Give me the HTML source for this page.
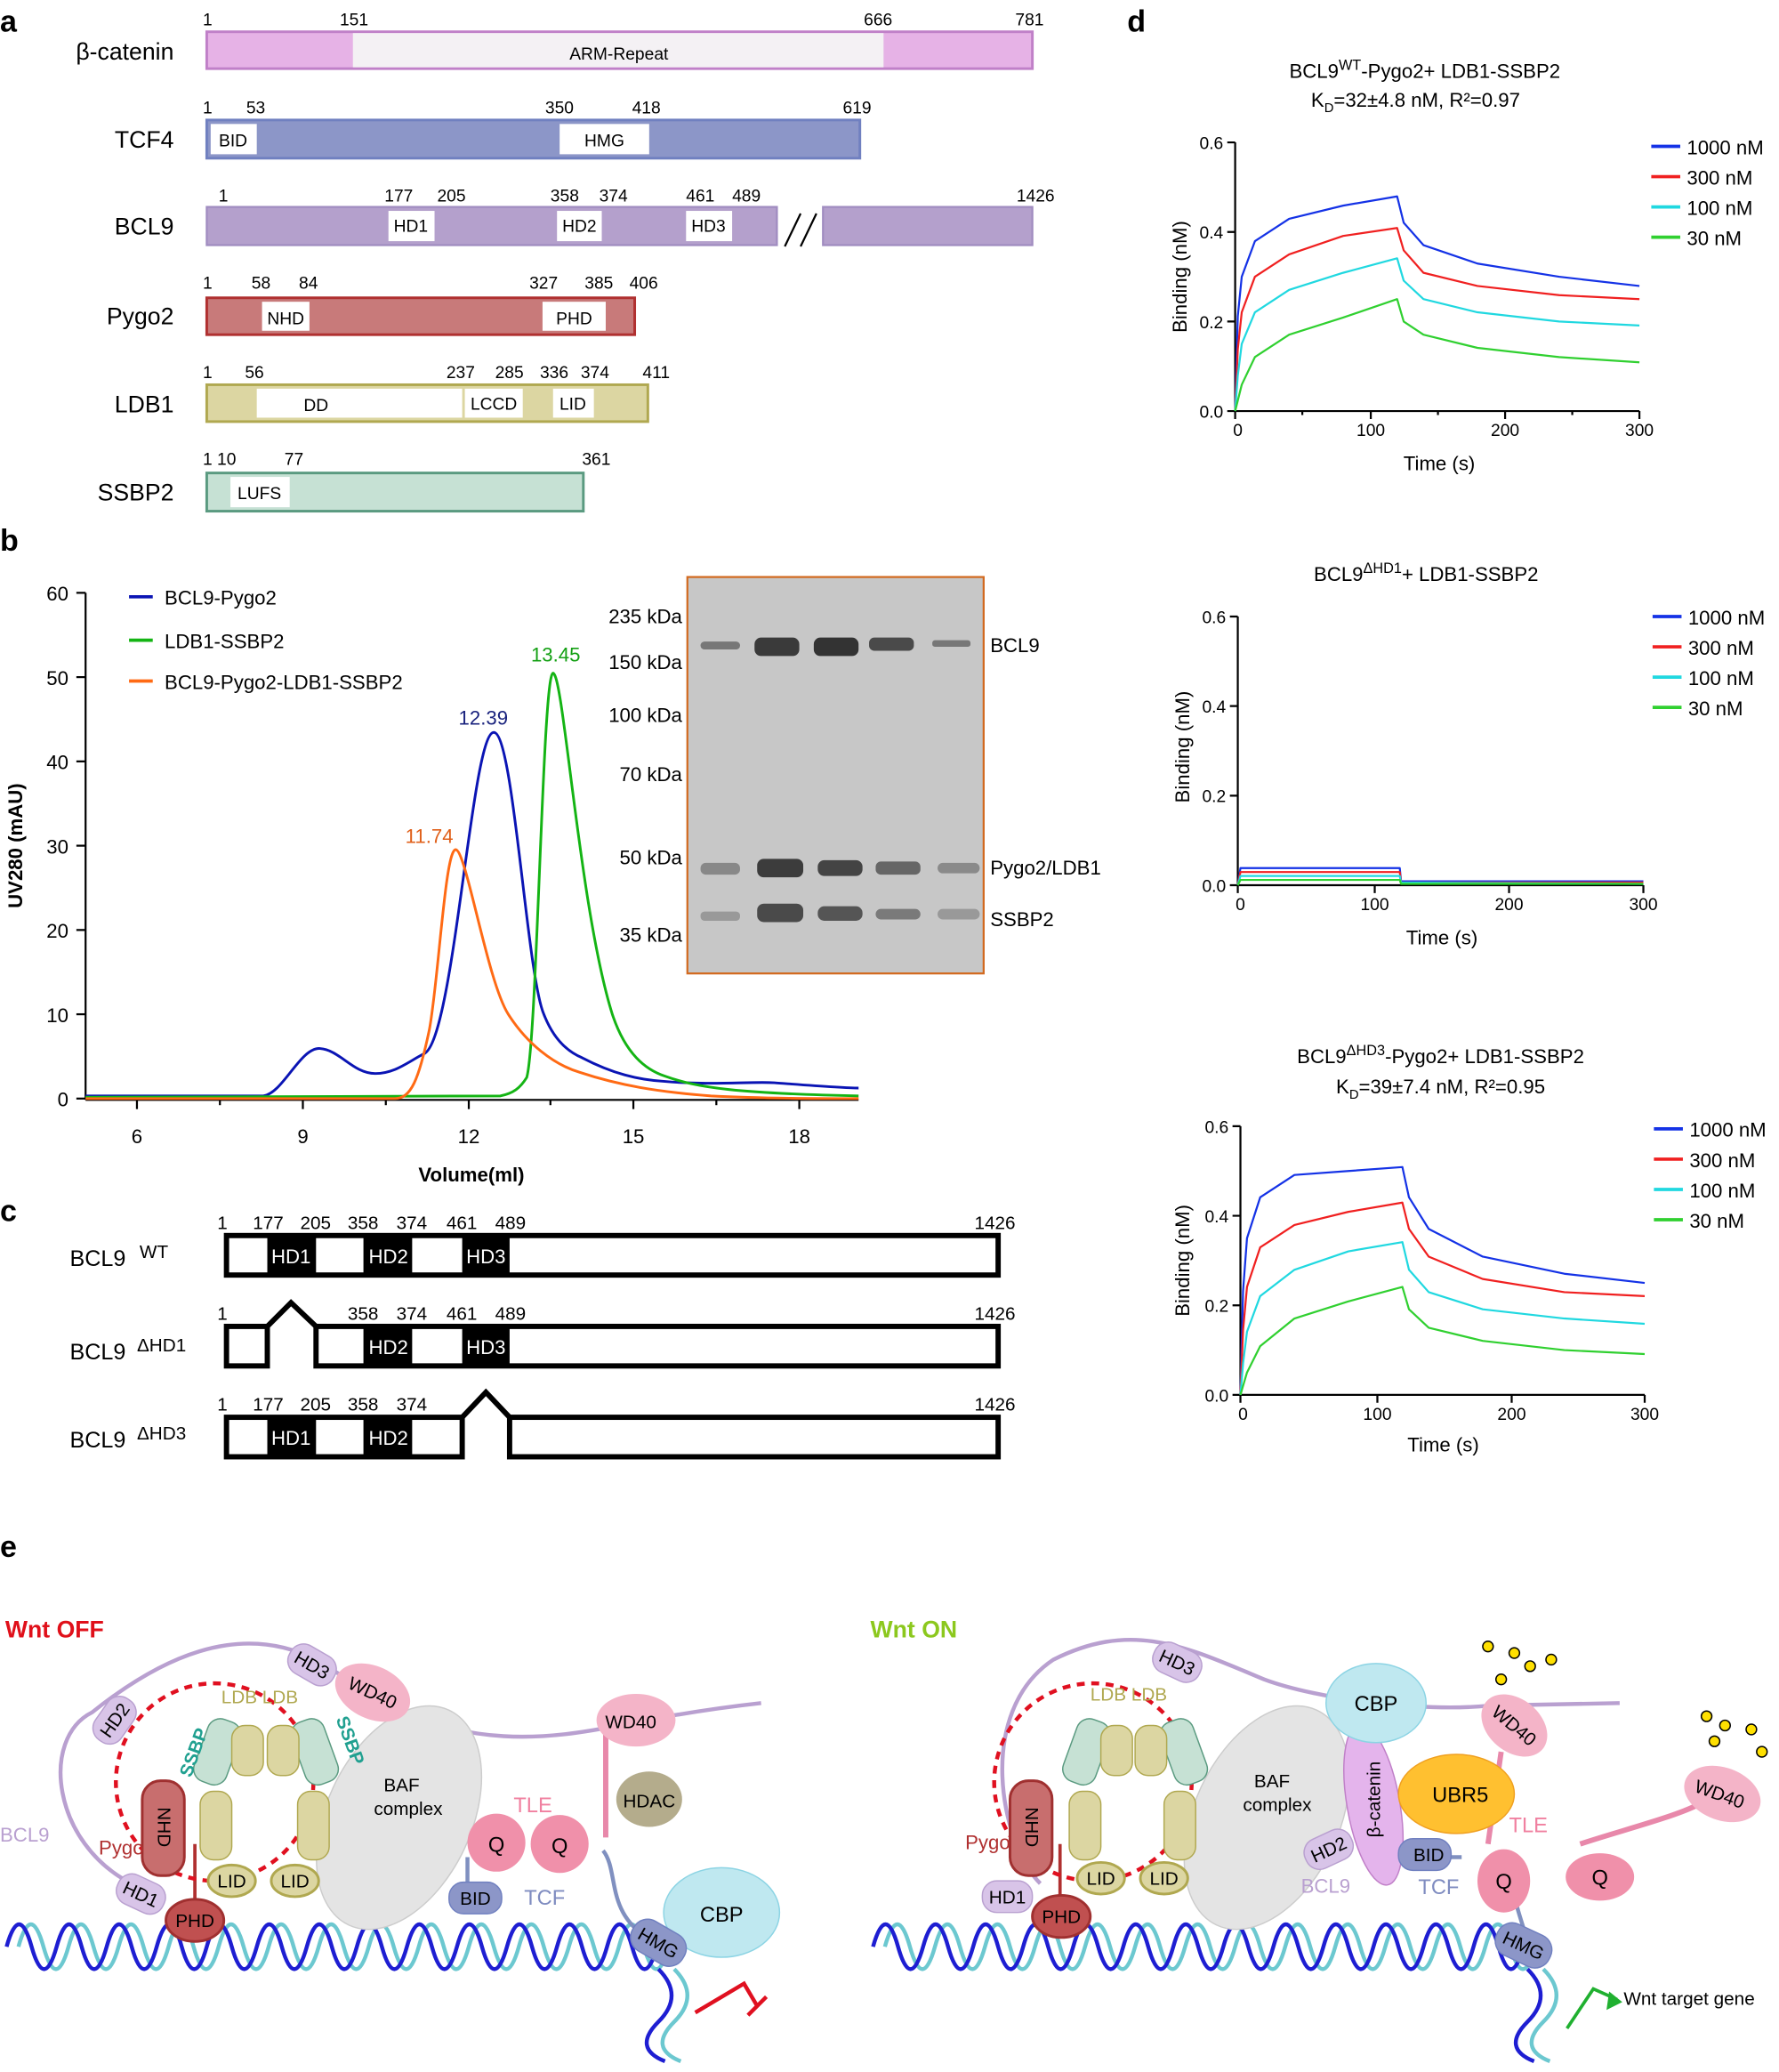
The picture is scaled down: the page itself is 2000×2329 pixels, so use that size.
<!DOCTYPE html>
<html><head><meta charset="utf-8"><style>
html,body{margin:0;padding:0;background:#fff}
svg{display:block}
text{font-family:"Liberation Sans",Arial,sans-serif}
</style></head><body>
<svg width="2000" height="2329" viewBox="0 0 1351 1573" xmlns="http://www.w3.org/2000/svg">
<g font-size="14" fill="#000">
<!-- Panel a -->
<text x="0" y="24" font-size="23" font-weight="bold">a</text>
<g font-size="18" text-anchor="end">
<text x="132" y="45">β-catenin</text>
<text x="132" y="112">TCF4</text>
<text x="132" y="178">BCL9</text>
<text x="132" y="246">Pygo2</text>
<text x="132" y="313">LDB1</text>
<text x="132" y="380">SSBP2</text>
</g>
<g font-size="13">
<rect x="157" y="24" width="627" height="28" fill="#e6b2e6" stroke="#c080c8" stroke-width="2"/>
<rect x="268" y="25" width="403" height="26" fill="#f4f1f4"/>
<text x="470" y="45" text-anchor="middle">ARM-Repeat</text>
<text x="154" y="19">1</text><text x="258" y="19">151</text><text x="656" y="19">666</text><text x="771" y="19">781</text>

<rect x="157" y="91" width="496" height="29" fill="#8c96c8" stroke="#7080c0" stroke-width="2"/>
<rect x="160" y="94" width="35" height="23" fill="#fff"/><text x="177" y="111" text-anchor="middle">BID</text>
<rect x="425" y="94" width="68" height="23" fill="#fff"/><text x="459" y="111" text-anchor="middle">HMG</text>
<text x="154" y="86">1</text><text x="187" y="86">53</text><text x="414" y="86">350</text><text x="480" y="86">418</text><text x="640" y="86">619</text>

<rect x="157" y="157" width="433" height="29" fill="#b4a0cc" stroke="#a08cc0" stroke-width="1.5"/>
<rect x="625" y="157" width="159" height="29" fill="#b4a0cc" stroke="#a08cc0" stroke-width="1.5"/>
<line x1="596" y1="187" x2="608" y2="162" stroke="#000" stroke-width="1.5"/><line x1="608" y1="187" x2="620" y2="162" stroke="#000" stroke-width="1.5"/>
<rect x="295" y="160" width="35" height="23" fill="#fff"/><text x="312" y="176" text-anchor="middle">HD1</text>
<rect x="423" y="160" width="34" height="23" fill="#fff"/><text x="440" y="176" text-anchor="middle">HD2</text>
<rect x="521" y="160" width="35" height="23" fill="#fff"/><text x="538" y="176" text-anchor="middle">HD3</text>
<text x="166" y="153">1</text><text x="292" y="153">177</text><text x="332" y="153">205</text><text x="418" y="153">358</text><text x="455" y="153">374</text><text x="521" y="153">461</text><text x="556" y="153">489</text><text x="772" y="153">1426</text>

<rect x="157" y="226" width="325" height="28" fill="#c87a7a" stroke="#b03030" stroke-width="2"/>
<rect x="199" y="229" width="36" height="22" fill="#fff"/><text x="217" y="246" text-anchor="middle">NHD</text>
<rect x="412" y="229" width="48" height="22" fill="#fff"/><text x="436" y="246" text-anchor="middle">PHD</text>
<text x="154" y="219">1</text><text x="191" y="219">58</text><text x="227" y="219">84</text><text x="402" y="219">327</text><text x="444" y="219">385</text><text x="478" y="219">406</text>

<rect x="157" y="292" width="335" height="28" fill="#dcd6a2" stroke="#b0a850" stroke-width="2"/>
<rect x="195" y="295" width="156" height="22" fill="#fff"/><text x="240" y="312" text-anchor="middle">DD</text>
<rect x="353" y="295" width="44" height="22" fill="#fff"/><text x="375" y="311" text-anchor="middle">LCCD</text>
<rect x="420" y="295" width="31" height="22" fill="#fff"/><text x="435" y="311" text-anchor="middle">LID</text>
<text x="154" y="287">1</text><text x="186" y="287">56</text><text x="339" y="287">237</text><text x="376" y="287">285</text><text x="410" y="287">336</text><text x="441" y="287">374</text><text x="488" y="287">411</text>

<rect x="157" y="359" width="286" height="29" fill="#c6e1d4" stroke="#5a9a80" stroke-width="2"/>
<rect x="175" y="362" width="45" height="23" fill="#fff"/><text x="197" y="379" text-anchor="middle">LUFS</text>
<text x="154" y="353">1 10</text><text x="216" y="353">77</text><text x="442" y="353">361</text>
</g>

<!-- Panel b -->
<text x="0" y="418" font-size="23" font-weight="bold">b</text>
<g stroke="#000" stroke-width="1.5" fill="none">
<line x1="65" y1="450" x2="65" y2="835"/><line x1="65" y1="835" x2="652" y2="835"/>
<line x1="58" y1="450" x2="65" y2="450"/><line x1="58" y1="514" x2="65" y2="514"/><line x1="58" y1="578" x2="65" y2="578"/><line x1="58" y1="642" x2="65" y2="642"/><line x1="58" y1="706" x2="65" y2="706"/><line x1="58" y1="770" x2="65" y2="770"/><line x1="58" y1="834" x2="65" y2="834"/>
<line x1="104" y1="835" x2="104" y2="842"/><line x1="230" y1="835" x2="230" y2="842"/><line x1="356" y1="835" x2="356" y2="842"/><line x1="481" y1="835" x2="481" y2="842"/><line x1="607" y1="835" x2="607" y2="842"/>
<line x1="167" y1="835" x2="167" y2="839"/><line x1="293" y1="835" x2="293" y2="839"/><line x1="418" y1="835" x2="418" y2="839"/><line x1="544" y1="835" x2="544" y2="839"/>
</g>
<g font-size="15" text-anchor="end">
<text x="52" y="456">60</text><text x="52" y="520">50</text><text x="52" y="584">40</text><text x="52" y="648">30</text><text x="52" y="712">20</text><text x="52" y="776">10</text><text x="52" y="840">0</text>
</g>
<g font-size="15" text-anchor="middle">
<text x="104" y="868">6</text><text x="230" y="868">9</text><text x="356" y="868">12</text><text x="481" y="868">15</text><text x="607" y="868">18</text>
</g>
<text x="358" y="897" font-size="15" font-weight="bold" text-anchor="middle">Volume(ml)</text>
<text transform="translate(17,642) rotate(-90)" font-size="15" font-weight="bold" text-anchor="middle">UV280 (mAU)</text>
<path d="M65 832 L200 832 C215 830 228 795 243 796 C258 797 268 815 285 815 C300 815 310 806 322 800 C345 790 358 556 375 556 C390 556 400 740 413 770 C420 788 430 798 442 803 C465 815 485 820 505 821 C540 824 570 821 588 822 C615 824 640 826 652 826" fill="none" stroke="#0a14b4" stroke-width="2"/>
<path d="M65 833 L380 832 C390 830 395 826 400 818 C408 790 412 511 420 511 C428 511 440 690 465 770 C475 800 490 812 505 817 C530 826 560 830 652 832" fill="none" stroke="#14b414" stroke-width="2"/>
<path d="M65 834 L300 834 C312 834 318 820 326 782 C333 745 338 645 346 645 C354 645 370 745 386 770 C400 792 420 808 440 814 C470 824 500 829 540 832 C580 834 620 834 652 834" fill="none" stroke="#ff6a14" stroke-width="2"/>
<g font-size="15">
<line x1="98" y1="453" x2="116" y2="453" stroke="#0a14b4" stroke-width="2.5"/><text x="125" y="459">BCL9-Pygo2</text>
<line x1="98" y1="486" x2="116" y2="486" stroke="#14b414" stroke-width="2.5"/><text x="125" y="492">LDB1-SSBP2</text>
<line x1="98" y1="517" x2="116" y2="517" stroke="#ff6a14" stroke-width="2.5"/><text x="125" y="523">BCL9-Pygo2-LDB1-SSBP2</text>
<text x="367" y="550" fill="#1a237e" text-anchor="middle">12.39</text>
<text x="422" y="502" fill="#14a014" text-anchor="middle">13.45</text>
<text x="326" y="640" fill="#e0601a" text-anchor="middle">11.74</text>
</g>
<!-- gel -->
<rect x="522" y="438" width="225" height="301" fill="#c7c7c7" stroke="#d2691e" stroke-width="1.5"/>
<g fill="#555">
<rect x="532" y="487" width="30" height="6" rx="3" fill="#777"/>
<rect x="573" y="484" width="34" height="14" rx="5" fill="#3a3a3a"/>
<rect x="618" y="484" width="34" height="14" rx="5" fill="#333"/>
<rect x="660" y="484" width="34" height="10" rx="4" fill="#4a4a4a"/>
<rect x="708" y="486" width="29" height="5" rx="2" fill="#777"/>
<rect x="532" y="655" width="30" height="9" rx="4" fill="#888"/>
<rect x="575" y="652" width="35" height="14" rx="5" fill="#3c3c3c"/>
<rect x="621" y="653" width="34" height="12" rx="5" fill="#444"/>
<rect x="665" y="654" width="34" height="10" rx="4" fill="#666"/>
<rect x="712" y="655" width="32" height="8" rx="4" fill="#8a8a8a"/>
<rect x="532" y="692" width="30" height="7" rx="3" fill="#999"/>
<rect x="575" y="686" width="35" height="14" rx="5" fill="#4a4a4a"/>
<rect x="621" y="688" width="34" height="11" rx="5" fill="#555"/>
<rect x="665" y="690" width="34" height="8" rx="4" fill="#7a7a7a"/>
<rect x="712" y="690" width="32" height="8" rx="4" fill="#999"/>
</g>
<g font-size="15" text-anchor="end">
<text x="518" y="473">235 kDa</text><text x="518" y="508">150 kDa</text><text x="518" y="548">100 kDa</text><text x="518" y="593">70 kDa</text><text x="518" y="656">50 kDa</text><text x="518" y="715">35 kDa</text>
</g>
<g font-size="15"><text x="752" y="495">BCL9</text><text x="752" y="664">Pygo2/LDB1</text><text x="752" y="703">SSBP2</text></g>

<!-- Panel c -->
<text x="0" y="927" font-size="23" font-weight="bold">c</text>
<g font-size="17">
<text x="53" y="961">BCL9</text><text x="106" y="955" font-size="14">WT</text>
<text x="53" y="1032">BCL9</text><text x="104" y="1026" font-size="14">ΔHD1</text>
<text x="53" y="1099">BCL9</text><text x="104" y="1093" font-size="14">ΔHD3</text>
</g>
<g fill="#fff" stroke="#000" stroke-width="4">
<rect x="172" y="938" width="586" height="30"/>
<rect x="172" y="1007" width="31" height="30"/><rect x="240" y="1007" width="518" height="30"/>
<polyline points="203,1007 221,989 240,1007" fill="none"/>
<rect x="172" y="1076" width="179" height="30"/><rect x="387" y="1076" width="371" height="30"/>
<polyline points="351,1076 369,1057 387,1076" fill="none"/>
</g>
<g fill="#000">
<rect x="203" y="938" width="37" height="30"/><rect x="276" y="938" width="37" height="30"/><rect x="351" y="938" width="36" height="30"/>
<rect x="276" y="1007" width="37" height="30"/><rect x="351" y="1007" width="36" height="30"/>
<rect x="203" y="1076" width="37" height="30"/><rect x="276" y="1076" width="37" height="30"/>
</g>
<g font-size="15" fill="#fff" text-anchor="middle">
<text x="221" y="959">HD1</text><text x="295" y="959">HD2</text><text x="369" y="959">HD3</text>
<text x="295" y="1028">HD2</text><text x="369" y="1028">HD3</text>
<text x="221" y="1097">HD1</text><text x="295" y="1097">HD2</text>
</g>
<g font-size="14">
<text x="165" y="933">1</text><text x="192" y="933">177</text><text x="228" y="933">205</text><text x="264" y="933">358</text><text x="301" y="933">374</text><text x="339" y="933">461</text><text x="376" y="933">489</text><text x="740" y="933">1426</text>
<text x="165" y="1002">1</text><text x="264" y="1002">358</text><text x="301" y="1002">374</text><text x="339" y="1002">461</text><text x="376" y="1002">489</text><text x="740" y="1002">1426</text>
<text x="165" y="1071">1</text><text x="192" y="1071">177</text><text x="228" y="1071">205</text><text x="264" y="1071">358</text><text x="301" y="1071">374</text><text x="740" y="1071">1426</text>
</g>

<!-- Panel d -->
<text x="856" y="24" font-size="23" font-weight="bold">d</text>
<g font-size="15" text-anchor="middle">
<text x="1082" y="59">BCL9<tspan font-size="11" dy="-6">WT</tspan><tspan dy="6">-Pygo2+ LDB1-SSBP2</tspan></text>
<text x="1075" y="81">K<tspan font-size="10" dy="4">D</tspan><tspan dy="-4">=32±4.8 nM, R²=0.97</tspan></text>
<text x="1083" y="441">BCL9<tspan font-size="11" dy="-6">ΔHD1</tspan><tspan dy="6">+ LDB1-SSBP2</tspan></text>
<text x="1094" y="807">BCL9<tspan font-size="11" dy="-6">ΔHD3</tspan><tspan dy="6">-Pygo2+ LDB1-SSBP2</tspan></text>
<text x="1094" y="830">K<tspan font-size="10" dy="4">D</tspan><tspan dy="-4">=39±7.4 nM, R²=0.95</tspan></text>
</g>
<!-- plot frames -->
<g stroke="#000" stroke-width="1.5" fill="none">
<path d="M938 108 V312 H1245"/><path d="M932 108H938M932 176H938M932 244H938M932 312H938M938 312V318M1041 312V318M1143 312V318M1245 312V318M989 312V315M1092 312V315M1194 312V315"/>
<path d="M940 468 V672 H1248"/><path d="M934 468H940M934 536H940M934 604H940M934 672H940M940 672V678M1044 672V678M1146 672V678M1248 672V678"/>
<path d="M942 855 V1059 H1249"/><path d="M936 855H942M936 923H942M936 991H942M936 1059H942M942 1059V1065M1046 1059V1065M1148 1059V1065M1249 1059V1065"/>
</g>
<g font-size="13" text-anchor="end">
<text x="929" y="113">0.6</text><text x="929" y="181">0.4</text><text x="929" y="249">0.2</text><text x="929" y="317">0.0</text>
<text x="931" y="473">0.6</text><text x="931" y="541">0.4</text><text x="931" y="609">0.2</text><text x="931" y="677">0.0</text>
<text x="933" y="860">0.6</text><text x="933" y="928">0.4</text><text x="933" y="996">0.2</text><text x="933" y="1064">0.0</text>
</g>
<g font-size="13" text-anchor="middle">
<text x="940" y="331">0</text><text x="1041" y="331">100</text><text x="1143" y="331">200</text><text x="1245" y="331">300</text>
<text x="942" y="691">0</text><text x="1044" y="691">100</text><text x="1146" y="691">200</text><text x="1248" y="691">300</text>
<text x="944" y="1078">0</text><text x="1046" y="1078">100</text><text x="1148" y="1078">200</text><text x="1249" y="1078">300</text>
</g>
<g font-size="15" text-anchor="middle">
<text x="1093" y="357">Time (s)</text><text x="1095" y="717">Time (s)</text><text x="1096" y="1102">Time (s)</text>
<text transform="translate(901,210) rotate(-90)">Binding (nM)</text>
<text transform="translate(903,567) rotate(-90)">Binding (nM)</text>
<text transform="translate(903,957) rotate(-90)">Binding (nM)</text>
</g>
<g fill="none" stroke-width="1.5" stroke-linejoin="round">
<polyline stroke="#1432e6" points="938,312 940,240 943,210 953,183 979,166 1020,156 1061,149 1066,169 1081,186 1122,200 1184,210 1245,217"/>
<polyline stroke="#f02020" points="938,312 940,265 943,237 953,210 979,193 1020,179 1061,173 1066,190 1081,207 1122,217 1184,224 1245,227"/>
<polyline stroke="#20d8e0" points="938,312 940,285 943,261 953,237 979,220 1020,207 1061,196 1066,213 1081,227 1122,237 1184,244 1245,247"/>
<polyline stroke="#30d030" points="938,312 943,292 953,271 979,254 1020,241 1061,227 1066,244 1081,254 1122,264 1184,271 1245,275"/>
<polyline stroke="#1432e6" points="940,672 942,659 1063,659 1064,669 1248,669"/>
<polyline stroke="#f02020" points="940,672 942,662 1063,662 1064,670 1248,670"/>
<polyline stroke="#20d8e0" points="940,672 942,665 1063,665 1064,670 1248,671"/>
<polyline stroke="#30d030" points="940,672 942,668 1063,668 1064,671 1248,671"/>
<polyline stroke="#1432e6" points="942,1059 944,980 947,940 957,909 983,892 1024,889 1065,886 1070,909 1085,933 1126,954 1188,967 1249,974"/>
<polyline stroke="#f02020" points="942,1059 944,1010 947,977 957,947 983,930 1024,920 1065,913 1070,933 1085,954 1126,971 1188,981 1249,984"/>
<polyline stroke="#20d8e0" points="942,1059 944,1035 947,1011 957,984 983,964 1024,950 1065,943 1070,964 1085,981 1126,994 1188,1001 1249,1005"/>
<polyline stroke="#30d030" points="942,1059 947,1042 957,1022 983,1001 1024,988 1065,977 1070,994 1085,1008 1126,1018 1188,1025 1249,1028"/>
</g>
<g font-size="15">
<g transform="translate(0,0)">
<line x1="1254" y1="111" x2="1276" y2="111" stroke="#1432e6" stroke-width="2.5"/><text x="1281" y="117">1000 nM</text>
<line x1="1254" y1="134" x2="1276" y2="134" stroke="#f02020" stroke-width="2.5"/><text x="1281" y="140">300 nM</text>
<line x1="1254" y1="157" x2="1276" y2="157" stroke="#20d8e0" stroke-width="2.5"/><text x="1281" y="163">100 nM</text>
<line x1="1254" y1="180" x2="1276" y2="180" stroke="#30d030" stroke-width="2.5"/><text x="1281" y="186">30 nM</text>
</g>
<g transform="translate(1,357)">
<line x1="1254" y1="111" x2="1276" y2="111" stroke="#1432e6" stroke-width="2.5"/><text x="1281" y="117">1000 nM</text>
<line x1="1254" y1="134" x2="1276" y2="134" stroke="#f02020" stroke-width="2.5"/><text x="1281" y="140">300 nM</text>
<line x1="1254" y1="157" x2="1276" y2="157" stroke="#20d8e0" stroke-width="2.5"/><text x="1281" y="163">100 nM</text>
<line x1="1254" y1="180" x2="1276" y2="180" stroke="#30d030" stroke-width="2.5"/><text x="1281" y="186">30 nM</text>
</g>
<g transform="translate(2,746)">
<line x1="1254" y1="111" x2="1276" y2="111" stroke="#1432e6" stroke-width="2.5"/><text x="1281" y="117">1000 nM</text>
<line x1="1254" y1="134" x2="1276" y2="134" stroke="#f02020" stroke-width="2.5"/><text x="1281" y="140">300 nM</text>
<line x1="1254" y1="157" x2="1276" y2="157" stroke="#20d8e0" stroke-width="2.5"/><text x="1281" y="163">100 nM</text>
<line x1="1254" y1="180" x2="1276" y2="180" stroke="#30d030" stroke-width="2.5"/><text x="1281" y="186">30 nM</text>
</g>
</g>

<!-- Panel e -->
<text x="0" y="1182" font-size="23" font-weight="bold">e</text>
<text x="4" y="1243" font-size="18" font-weight="bold" fill="#e0101a">Wnt OFF</text>
<text x="661" y="1243" font-size="18" font-weight="bold" fill="#8cc81e">Wnt ON</text>

<!-- DNA left -->
<path d="M14 1478 q9.5 -34 19 0 t19 0 t19 0 t19 0 t19 0 t19 0 t19 0 t19 0 t19 0 t19 0 t19 0 t19 0 t19 0 t19 0 t19 0 t19 0 t19 0 t19 0 t19 0 t19 0 t19 0 t19 0 t19 0 t19 0 t19 0 t19 0" fill="none" stroke="#6cc8d0" stroke-width="3"/>
<path d="M5 1478 q9.5 -34 19 0 t19 0 t19 0 t19 0 t19 0 t19 0 t19 0 t19 0 t19 0 t19 0 t19 0 t19 0 t19 0 t19 0 t19 0 t19 0 t19 0 t19 0 t19 0 t19 0 t19 0 t19 0 t19 0 t19 0 t19 0 t19 0" fill="none" stroke="#1e1ed2" stroke-width="3"/>
<path d="M500 1495 q20 20 0 40 t5 30" fill="none" stroke="#1e1ed2" stroke-width="3"/>
<path d="M512 1495 q20 20 0 40 t5 30" fill="none" stroke="#6cc8d0" stroke-width="3"/>
<path d="M528 1528 L565 1506 L575 1523 M568 1530 L582 1516" fill="none" stroke="#e01020" stroke-width="3"/>
<!-- DNA right -->
<path d="M672 1478 q9.5 -34 19 0 t19 0 t19 0 t19 0 t19 0 t19 0 t19 0 t19 0 t19 0 t19 0 t19 0 t19 0 t19 0 t19 0 t19 0 t19 0 t19 0 t19 0 t19 0 t19 0 t19 0 t19 0 t19 0 t19 0 t19 0 t19 0" fill="none" stroke="#6cc8d0" stroke-width="3"/>
<path d="M663 1478 q9.5 -34 19 0 t19 0 t19 0 t19 0 t19 0 t19 0 t19 0 t19 0 t19 0 t19 0 t19 0 t19 0 t19 0 t19 0 t19 0 t19 0 t19 0 t19 0 t19 0 t19 0 t19 0 t19 0 t19 0 t19 0 t19 0 t19 0" fill="none" stroke="#1e1ed2" stroke-width="3"/>
<path d="M1160 1495 q20 20 0 40 t5 30" fill="none" stroke="#1e1ed2" stroke-width="3"/>
<path d="M1172 1495 q20 20 0 40 t5 30" fill="none" stroke="#6cc8d0" stroke-width="3"/>
<path d="M1190 1540 L1210 1510 L1228 1518" fill="none" stroke="#20b030" stroke-width="2.5"/>
<polygon points="1232,1520 1222,1512 1220,1526" fill="#20b030"/>
<text x="1233" y="1522" font-size="14">Wnt target gene</text>

<!-- Left schematic -->
<g font-size="14">
<path d="M100 1430 C40 1400 30 1320 70 1300 C120 1260 180 1230 240 1260 L280 1285 C350 1330 420 1320 470 1310 C520 1300 560 1295 578 1293" fill="none" stroke="#b9a0d0" stroke-width="3"/>
<path d="M350 1405 L330 1380 M460 1310 L460 1395" stroke="#e888aa" stroke-width="4" fill="none"/>
<path d="M355 1410 L355 1440 M458 1405 C470 1420 460 1450 490 1470" stroke="#8090c0" stroke-width="3" fill="none"/>
<path d="M148 1455 L148 1400" stroke="#b03030" stroke-width="2.5"/>
<ellipse cx="303" cy="1380" rx="55" ry="90" transform="rotate(25 303 1380)" fill="#e4e4e4" stroke="#ccc"/>
<text x="305" y="1360" text-anchor="middle">BAF</text><text x="310" y="1378" text-anchor="middle">complex</text>
<circle cx="163" cy="1353" r="75" fill="none" stroke="#e01020" stroke-width="3" stroke-dasharray="6,5"/>
<rect x="108" y="1352" width="32" height="72" rx="14" fill="#c86e6e" stroke="#a03030" stroke-width="2"/>
<text x="0" y="0" transform="translate(120,1372) rotate(90)">NHD</text>
<rect x="152" y="1305" width="26" height="50" rx="10" fill="#c6e1d4" stroke="#5a9a80" transform="rotate(20 165 1330)"/>
<rect x="226" y="1305" width="26" height="50" rx="10" fill="#c6e1d4" stroke="#5a9a80" transform="rotate(-20 239 1330)"/>
<rect x="152" y="1360" width="24" height="52" rx="10" fill="#dcd6a2" stroke="#b0a850"/>
<rect x="226" y="1360" width="24" height="52" rx="10" fill="#dcd6a2" stroke="#b0a850"/>
<rect x="176" y="1310" width="24" height="38" rx="10" fill="#dcd6a2" stroke="#b0a850"/>
<rect x="203" y="1310" width="24" height="38" rx="10" fill="#dcd6a2" stroke="#b0a850"/>
<ellipse cx="176" cy="1428" rx="18" ry="12" fill="#dcd6a2" stroke="#b0a850" stroke-width="2"/><text x="176" y="1433" text-anchor="middle">LID</text>
<ellipse cx="224" cy="1428" rx="18" ry="12" fill="#dcd6a2" stroke="#b0a850" stroke-width="2"/><text x="224" y="1433" text-anchor="middle">LID</text>
<text x="168" y="1293" fill="#b0a850">LDB LDB</text>
<ellipse cx="148" cy="1458" rx="22" ry="16" fill="#c05050" stroke="#a03030" stroke-width="2"/><text x="148" y="1463" text-anchor="middle">PHD</text>
<rect x="88" y="1426" width="38" height="24" rx="11" fill="#d8c4e8" stroke="#b9a0d0" transform="rotate(25 107 1438)"/><text x="107" y="1443" text-anchor="middle" transform="rotate(25 107 1438)">HD1</text>
<rect x="68" y="1294" width="38" height="24" rx="11" fill="#d8c4e8" stroke="#b9a0d0" transform="rotate(-55 87 1306)"/><text x="87" y="1311" text-anchor="middle" transform="rotate(-55 87 1306)">HD2</text>
<rect x="218" y="1252" width="38" height="24" rx="11" fill="#d8c4e8" stroke="#b9a0d0" transform="rotate(30 237 1264)"/><text x="237" y="1269" text-anchor="middle" transform="rotate(30 237 1264)">HD3</text>
<ellipse cx="283" cy="1285" rx="30" ry="20" fill="#f4b4c8" transform="rotate(25 283 1285)"/><text x="283" y="1290" text-anchor="middle" transform="rotate(25 283 1285)">WD40</text>
<ellipse cx="483" cy="1306" rx="30" ry="20" fill="#f4b4c8"/><text x="479" y="1312" text-anchor="middle">WD40</text>
<ellipse cx="493" cy="1366" rx="25" ry="21" fill="#b4ac8c"/><text x="493" y="1372" text-anchor="middle">HDAC</text>
<circle cx="377" cy="1399" r="22" fill="#f090aa"/><text x="377" y="1406" text-anchor="middle" font-size="16">Q</text>
<circle cx="425" cy="1400" r="22" fill="#f090aa"/><text x="425" y="1407" text-anchor="middle" font-size="16">Q</text>
<text x="390" y="1376" fill="#f080a0" font-size="16">TLE</text>
<rect x="341" y="1429" width="40" height="24" rx="11" fill="#8c96c8" stroke="#7080c0"/><text x="361" y="1446" text-anchor="middle">BID</text>
<text x="398" y="1446" fill="#7f8cc0" font-size="16">TCF</text>
<ellipse cx="548" cy="1452" rx="44" ry="34" fill="#bfe8f0" stroke="#8cd4e4"/><text x="548" y="1459" text-anchor="middle" font-size="16">CBP</text>
<rect x="478" y="1462" width="44" height="26" rx="12" fill="#8c96c8" stroke="#7080c0" transform="rotate(30 500 1475)"/><text x="500" y="1480" text-anchor="middle" transform="rotate(30 500 1475)">HMG</text>
<text x="0" y="1398" fill="#b9a0d0" font-size="15">BCL9</text>
<text x="75" y="1408" fill="#b03030" font-size="15">Pygo</text>
<text x="0" y="0" fill="#20a090" font-weight="bold" transform="translate(145,1350) rotate(-70)">SSBP</text>
<text x="0" y="0" fill="#20a090" font-weight="bold" transform="translate(255,1305) rotate(70)">SSBP</text>
</g>

<!-- Right schematic -->
<g font-size="14">
<path d="M790 1430 C760 1400 740 1300 800 1260 C860 1230 900 1250 960 1275 C1000 1290 1080 1300 1130 1295 L1230 1293" fill="none" stroke="#b9a0d0" stroke-width="3"/>
<path d="M1140 1330 L1130 1400 M1140 1405 L1150 1440 M1200 1400 C1230 1390 1270 1380 1290 1370" stroke="#e888aa" stroke-width="4" fill="none"/>
<path d="M1060 1410 L1110 1410 M1150 1440 C1155 1460 1160 1470 1160 1478" stroke="#8090c0" stroke-width="3" fill="none"/>
<path d="M805 1455 L805 1400" stroke="#b03030" stroke-width="2.5"/>
<ellipse cx="962" cy="1380" rx="55" ry="90" transform="rotate(25 962 1380)" fill="#e4e4e4" stroke="#ccc"/>
<text x="966" y="1357" text-anchor="middle">BAF</text><text x="970" y="1375" text-anchor="middle">complex</text>
<circle cx="830" cy="1353" r="75" fill="none" stroke="#e01020" stroke-width="3" stroke-dasharray="6,5"/>
<rect x="767" y="1352" width="32" height="72" rx="14" fill="#c86e6e" stroke="#a03030" stroke-width="2"/>
<text x="0" y="0" transform="translate(779,1372) rotate(90)">NHD</text>
<rect x="812" y="1305" width="26" height="50" rx="10" fill="#c6e1d4" stroke="#5a9a80" transform="rotate(20 825 1330)"/>
<rect x="886" y="1305" width="26" height="50" rx="10" fill="#c6e1d4" stroke="#5a9a80" transform="rotate(-20 899 1330)"/>
<rect x="812" y="1360" width="24" height="52" rx="10" fill="#dcd6a2" stroke="#b0a850"/>
<rect x="884" y="1360" width="24" height="52" rx="10" fill="#dcd6a2" stroke="#b0a850"/>
<rect x="836" y="1310" width="24" height="38" rx="10" fill="#dcd6a2" stroke="#b0a850"/>
<rect x="862" y="1310" width="24" height="38" rx="10" fill="#dcd6a2" stroke="#b0a850"/>
<ellipse cx="836" cy="1426" rx="18" ry="12" fill="#dcd6a2" stroke="#b0a850" stroke-width="2"/><text x="836" y="1431" text-anchor="middle">LID</text>
<ellipse cx="884" cy="1426" rx="18" ry="12" fill="#dcd6a2" stroke="#b0a850" stroke-width="2"/><text x="884" y="1431" text-anchor="middle">LID</text>
<text x="828" y="1291" fill="#b0a850">LDB LDB</text>
<ellipse cx="806" cy="1455" rx="22" ry="16" fill="#c05050" stroke="#a03030" stroke-width="2"/><text x="806" y="1460" text-anchor="middle">PHD</text>
<rect x="746" y="1428" width="38" height="24" rx="11" fill="#d8c4e8" stroke="#b9a0d0"/><text x="765" y="1445" text-anchor="middle">HD1</text>
<rect x="990" y="1392" width="38" height="24" rx="11" fill="#d8c4e8" stroke="#b9a0d0" transform="rotate(-25 1009 1404)"/><text x="1009" y="1409" text-anchor="middle" transform="rotate(-25 1009 1404)">HD2</text>
<rect x="875" y="1250" width="38" height="24" rx="11" fill="#d8c4e8" stroke="#b9a0d0" transform="rotate(25 894 1262)"/><text x="894" y="1267" text-anchor="middle" transform="rotate(25 894 1262)">HD3</text>
<text x="988" y="1437" fill="#b9a0d0" font-size="15">BCL9</text>
<text x="733" y="1404" fill="#b03030" font-size="15">Pygo</text>
<ellipse cx="1043" cy="1370" rx="20" ry="62" fill="#e4b4ec" stroke="#c080c8" transform="rotate(-10 1043 1370)"/>
<text x="0" y="0" transform="translate(1048,1395) rotate(-90)">β-catenin</text>
<ellipse cx="1045" cy="1293" rx="38" ry="30" fill="#bfe8f0" stroke="#8cd4e4"/><text x="1045" y="1299" text-anchor="middle" font-size="16">CBP</text>
<ellipse cx="1106" cy="1362" rx="44" ry="30" fill="#ffc030" stroke="#f0a020"/><text x="1109" y="1368" text-anchor="middle" font-size="16">UBR5</text>
<rect x="1062" y="1396" width="40" height="24" rx="11" fill="#8c96c8" stroke="#7080c0"/><text x="1085" y="1413" text-anchor="middle">BID</text>
<text x="1077" y="1438" fill="#7f8cc0" font-size="16">TCF</text>
<text x="1146" y="1391" fill="#f080a0" font-size="16">TLE</text>
<ellipse cx="1150" cy="1310" rx="28" ry="20" fill="#f4b4c8" transform="rotate(40 1150 1310)"/><text x="1150" y="1315" text-anchor="middle" transform="rotate(40 1150 1310)">WD40</text>
<ellipse cx="1308" cy="1362" rx="30" ry="20" fill="#f4b4c8" transform="rotate(20 1308 1362)"/><text x="1306" y="1367" text-anchor="middle" transform="rotate(20 1306 1362)">WD40</text>
<ellipse cx="1142" cy="1428" rx="20" ry="24" fill="#f090aa"/><text x="1142" y="1434" text-anchor="middle" font-size="16">Q</text>
<ellipse cx="1215" cy="1425" rx="26" ry="18" fill="#f090aa"/><text x="1215" y="1431" text-anchor="middle" font-size="16">Q</text>
<rect x="1135" y="1464" width="44" height="26" rx="12" fill="#8c96c8" stroke="#7080c0" transform="rotate(25 1157 1477)"/><text x="1157" y="1482" text-anchor="middle" transform="rotate(25 1157 1477)">HMG</text>
<g fill="#ffe000" stroke="#000" stroke-width="1">
<circle cx="1130" cy="1250" r="4"/><circle cx="1150" cy="1255" r="4"/><circle cx="1162" cy="1265" r="4"/><circle cx="1178" cy="1260" r="4"/><circle cx="1140" cy="1275" r="4"/>
<circle cx="1296" cy="1303" r="4"/><circle cx="1310" cy="1310" r="4"/><circle cx="1330" cy="1313" r="4"/><circle cx="1338" cy="1330" r="4"/><circle cx="1302" cy="1322" r="4"/>
</g>
</g>
</g>
</svg>
</body></html>
